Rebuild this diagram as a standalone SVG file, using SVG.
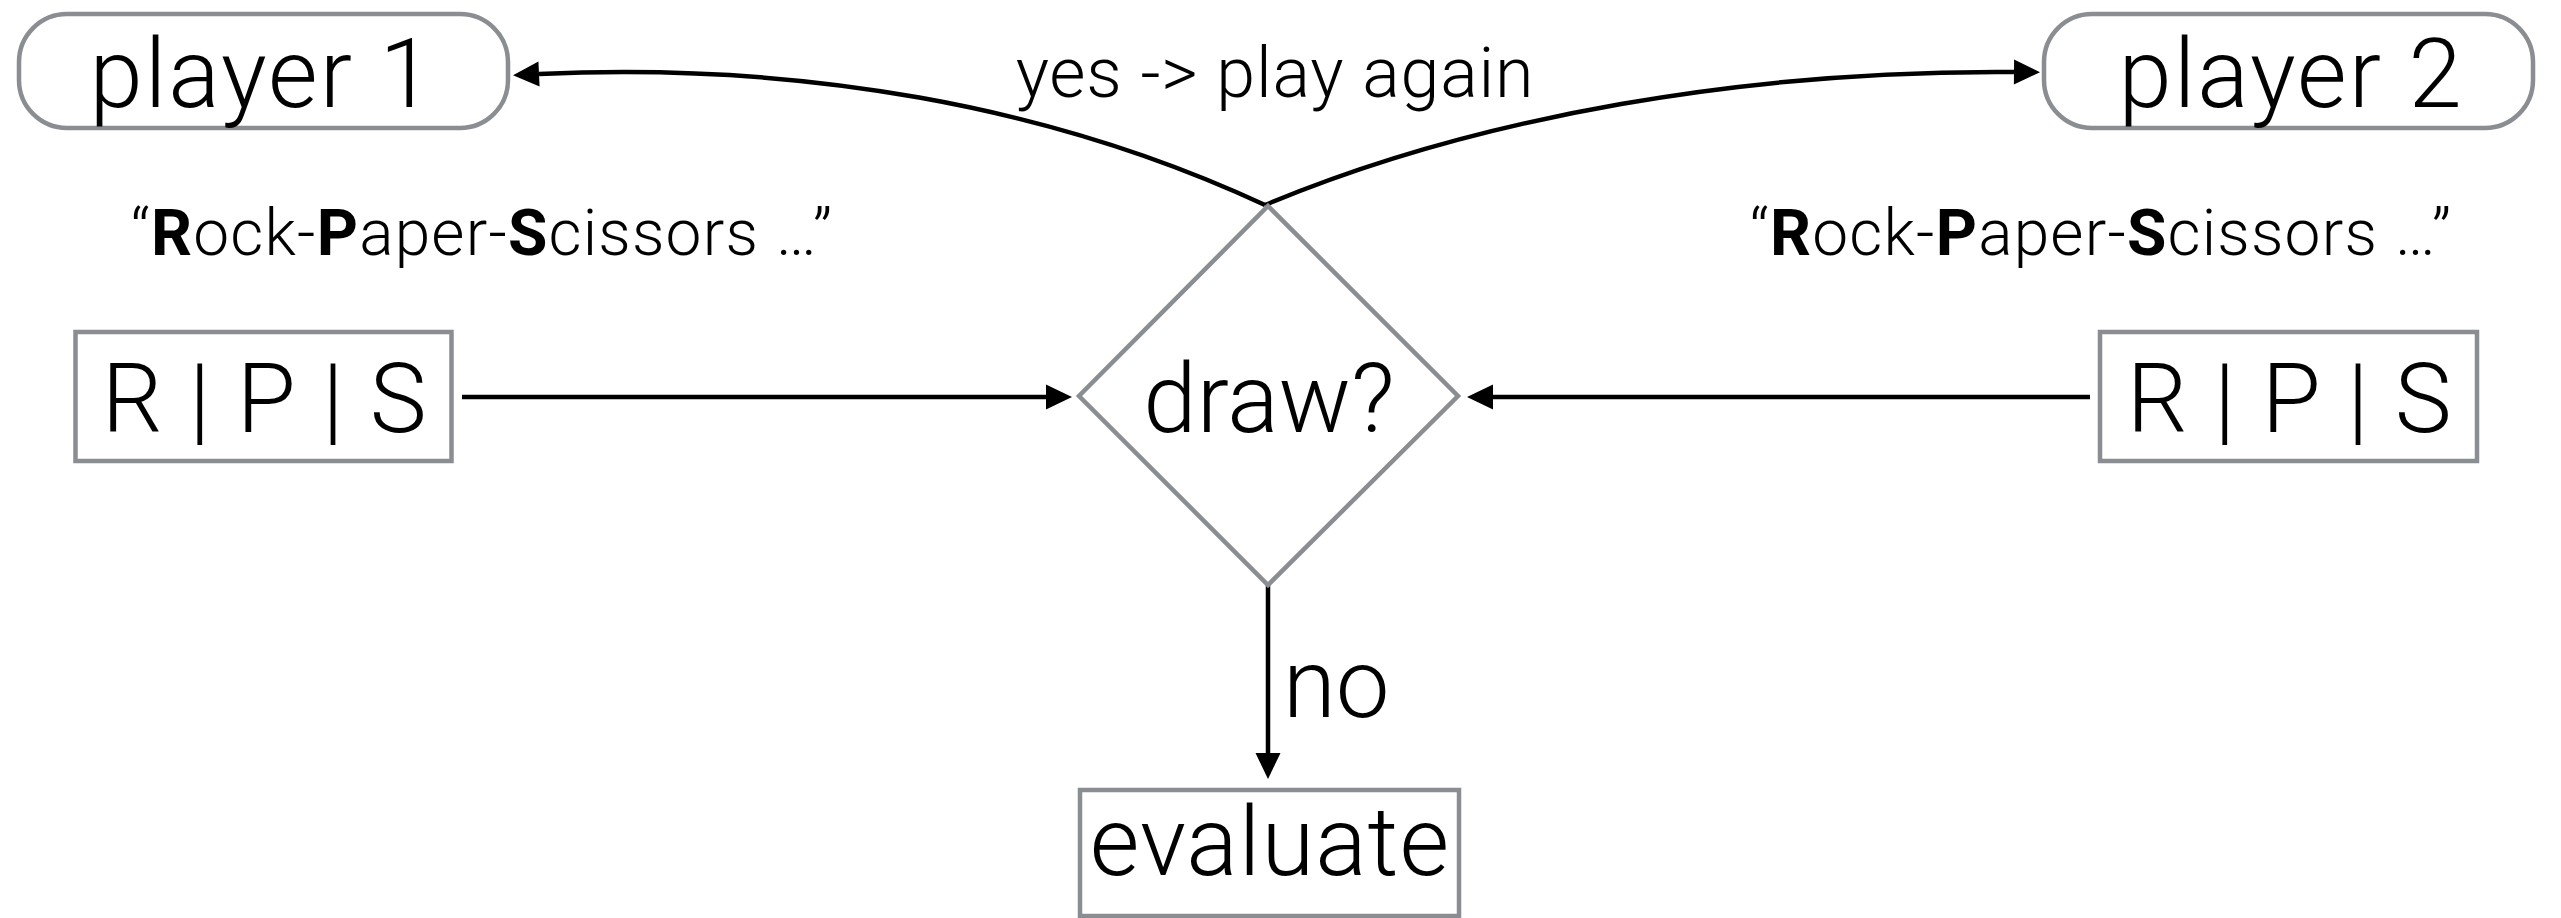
<svg xmlns="http://www.w3.org/2000/svg" width="2561" height="918" viewBox="0 0 2561 918">
<style>
.node{fill:#fff;stroke:#8a8d91;stroke-width:4.5}
.lbl{font-family:Roboto,"Liberation Sans",Arial,sans-serif;font-weight:300;fill:#000}
.big{font-size:96px}
.mid{text-anchor:middle}
.conn{fill:none;stroke:#000;stroke-width:4.5}
.b{font-weight:700}
.q{font-size:64px;letter-spacing:1.2px}
</style>
<defs>
<marker id="ah" markerUnits="userSpaceOnUse" markerWidth="26" markerHeight="25" refX="0" refY="12.5" orient="auto" overflow="visible">
<path d="M0,0 L26,12.5 L0,25 Z" fill="#000"/>
</marker>
</defs>
<rect width="2561" height="918" fill="#fff"/>
<g id="connectors">
<path class="conn" d="M1265,205 C1050,105 800,62 539,74" marker-end="url(#ah)"/>
<path class="conn" d="M1265,205 C1480,115 1750,70 2014,72" marker-end="url(#ah)"/>
<path class="conn" d="M462,397 L1046,397" marker-end="url(#ah)"/>
<path class="conn" d="M2090,397 L1493,397" marker-end="url(#ah)"/>
<path class="conn" d="M1268,585 L1268,753" marker-end="url(#ah)"/>
<text class="lbl mid" x="1275" y="97" font-size="70" letter-spacing="0.8">yes -&gt; play again</text>
<text class="lbl big" x="1283" y="717">no</text>
</g>
<g id="player1">
<rect class="node" x="19" y="14" width="489" height="114" rx="48" ry="48"/>
<text class="lbl big mid" x="262" y="107" letter-spacing="2">player 1</text>
</g>
<g id="player2">
<rect class="node" x="2044" y="14" width="489" height="114" rx="48" ry="48"/>
<text class="lbl big mid" x="2291" y="107" letter-spacing="2">player 2</text>
</g>
<g id="quote1">
<text class="lbl mid q" x="482" y="255">“<tspan class="b">R</tspan>ock-<tspan class="b">P</tspan>aper-<tspan class="b">S</tspan>cissors …”</text>
</g>
<g id="quote2">
<text class="lbl mid q" x="2101" y="255">“<tspan class="b">R</tspan>ock-<tspan class="b">P</tspan>aper-<tspan class="b">S</tspan>cissors …”</text>
</g>
<g id="rps1">
<rect class="node" x="75.5" y="332" width="376" height="129"/>
<text class="lbl big mid" x="265" y="432" letter-spacing="1.5">R | P | S</text>
</g>
<g id="rps2">
<rect class="node" x="2100" y="332" width="377" height="129"/>
<text class="lbl big mid" x="2290" y="432" letter-spacing="1.5">R | P | S</text>
</g>
<g id="draw">
<polygon class="node" points="1268,206 1458,396 1268,585 1079,396"/>
<text class="lbl big mid" x="1269" y="432">draw?</text>
</g>
<g id="evaluate">
<rect class="node" x="1080" y="790" width="379" height="126"/>
<text class="lbl big mid" x="1270" y="875" letter-spacing="1">evaluate</text>
</g>
</svg>
